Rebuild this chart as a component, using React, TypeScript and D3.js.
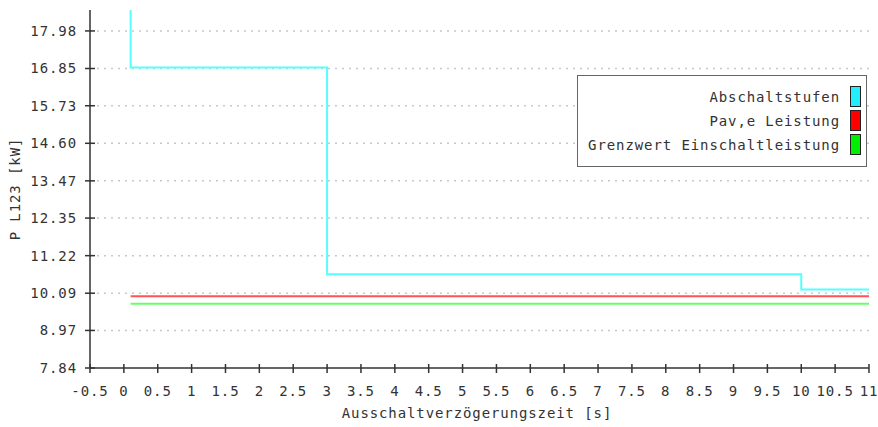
import React from "react";
import * as d3 from "d3";

const xTicks = [-0.5, 0, 0.5, 1, 1.5, 2, 2.5, 3, 3.5, 4, 4.5, 5, 5.5, 6, 6.5, 7, 7.5, 8, 8.5, 9, 9.5, 10, 10.5, 11];
const yTicks = [7.84, 8.97, 10.09, 11.22, 12.35, 13.47, 14.6, 15.73, 16.85, 17.98];
const yTickLabels = ["7.84", "8.97", "10.09", "11.22", "12.35", "13.47", "14.60", "15.73", "16.85", "17.98"];

const stufenX = [0.1, 0.1, 3, 10, 11];
const stufenY = [20, 16.88, 10.66, 10.2, 10.2];
const pavX = [0.1, 11];
const pavY = [10.0, 10.0];
const grenzX = [0.1, 11];
const grenzY = [9.775, 9.775];

const legendItems = [
  { label: "Abschaltstufen", color: "#22eeff" },
  { label: "Pav,e Leistung", color: "#ff0000" },
  { label: "Grenzwert Einschaltleistung", color: "#00ee00" },
];

const W = 878;
const H = 427;
const left = 90;
const right = 869;
const top = 10;
const bottom = 368;

export default function App() {
  const x = d3.scaleLinear().domain([-0.5, 11]).range([left, right]);
  const y = d3.scaleLinear().domain([7.84, 18.61]).range([bottom, top]);
  const font = "'DejaVu Sans Mono', monospace";
  const fs = 14;
  const ls = 0.9;

  const mk = (xs: number[], ys: number[]) =>
    d3
      .line<number>()
      .x((_, i) => x(xs[i]))
      .y((_, i) => y(ys[i]))
      .curve(d3.curveStepAfter)(xs) || "";

  return (
    <svg width={W} height={H} style={{ position: "absolute", left: 0, top: 0, background: "#fff" }}>
      <defs>
        <clipPath id="plot">
          <rect x={left} y={top} width={right - left + 2} height={bottom - top} />
        </clipPath>
      </defs>
      {yTicks.slice(1).map((t) => (
        <line key={t} x1={left} x2={right} y1={y(t)} y2={y(t)} stroke="#c8c8c8" strokeWidth={1.5} strokeDasharray="2,5" />
      ))}
      <g clipPath="url(#plot)" fill="none">
        <path d={mk(grenzX, grenzY)} stroke="#66ff66" strokeWidth={2} />
        <path d={mk(pavX, pavY)} stroke="#ff5555" strokeWidth={2} />
        <path d={mk(stufenX, stufenY)} stroke="#55ffff" strokeWidth={2} />
      </g>
      <line x1={left} x2={left} y1={top} y2={bottom} stroke="#333" strokeWidth={1.5} />
      <line x1={left} x2={right} y1={bottom} y2={bottom} stroke="#333" strokeWidth={1.5} />
      {yTicks.map((t, i) => (
        <g key={t}>
          <line x1={left - 5} x2={left + 5} y1={y(t)} y2={y(t)} stroke="#333" strokeWidth={1.5} />
          <text x={left - 13} y={y(t)} dy="0.35em" textAnchor="end" fontFamily={font} fontSize={fs} letterSpacing={ls} fill="#333">
            {yTickLabels[i]}
          </text>
        </g>
      ))}
      {xTicks.map((t) => (
        <g key={t}>
          <line x1={x(t)} x2={x(t)} y1={bottom - 4} y2={bottom + 5} stroke="#333" strokeWidth={1.5} />
          <text x={x(t)} y={396} textAnchor="middle" fontFamily={font} fontSize={fs} letterSpacing={ls} fill="#333">
            {String(t)}
          </text>
        </g>
      ))}
      <text x={477} y={418} textAnchor="middle" fontFamily={font} fontSize={fs} letterSpacing={ls} fill="#333">
        Ausschaltverzögerungszeit [s]
      </text>
      <text transform={`translate(20,189) rotate(-90)`} textAnchor="middle" fontFamily={font} fontSize={fs} letterSpacing={ls} fill="#333">
        P L123 [kW]
      </text>
      <rect x={577.5} y={75.5} width={289} height={91} fill="#fff" stroke="#666" strokeWidth={1} />
      {legendItems.map((it, i) => (
        <g key={it.label}>
          <rect x={850.5} y={86.5 + i * 24} width={10} height={20} fill={it.color} stroke="#222" strokeWidth={1} />
          <text x={840} y={97 + i * 24} dy="0.35em" textAnchor="end" fontFamily={font} fontSize={fs} letterSpacing={ls} fill="#333">
            {it.label}
          </text>
        </g>
      ))}
    </svg>
  );
}
